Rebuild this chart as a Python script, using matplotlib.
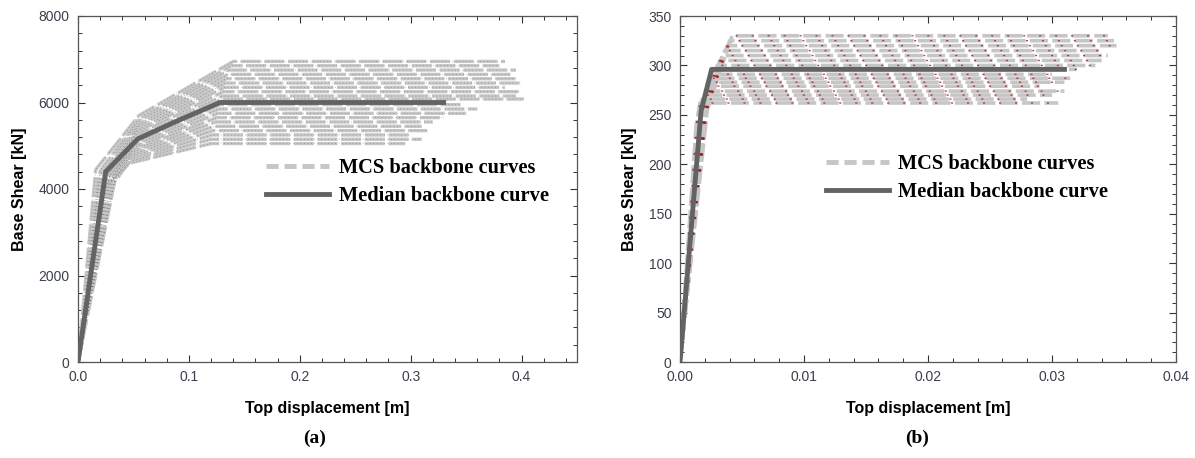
import matplotlib
matplotlib.use("Agg")
import matplotlib.pyplot as plt
from matplotlib.ticker import MultipleLocator, FormatStrFormatter
from matplotlib.lines import Line2D

# ---------------- Data: panel (a) ----------------
# MCS backbone curves (multi-linear): (0,0)->(d1,V1)->(d2,V2)->(d3,V3)->(du,V3)
a_d1 = [0.016, 0.020, 0.023, 0.026, 0.029, 0.032, 0.034, 0.018, 0.021, 0.024,
        0.027, 0.030, 0.033, 0.019, 0.022, 0.025, 0.028, 0.031, 0.026, 0.023]
a_V1 = [4450, 4420, 4400, 4380, 4350, 4330, 4300, 4280, 4260, 4240,
        4220, 4200, 4180, 4160, 4140, 4120, 4100, 4080, 4060, 4050]
a_d2 = [0.055, 0.055, 0.054, 0.054, 0.053, 0.053, 0.052, 0.052, 0.052, 0.051,
        0.051, 0.050, 0.050, 0.050, 0.049, 0.049, 0.048, 0.048, 0.048, 0.047]
a_V2 = [5700, 5620, 5550, 5480, 5420, 5360, 5300, 5240, 5180, 5120,
        5060, 5000, 4950, 4900, 4850, 4800, 4750, 4700, 4650, 4600]
a_d3 = [0.140, 0.138, 0.136, 0.135, 0.134, 0.133, 0.132, 0.131, 0.130, 0.130,
        0.128, 0.127, 0.126, 0.125, 0.124, 0.123, 0.122, 0.121, 0.120, 0.120]
a_V3 = [6950, 6850, 6750, 6650, 6550, 6450, 6350, 6250, 6150, 6080,
        5950, 5850, 5750, 5650, 5550, 5450, 5350, 5250, 5150, 5050]
a_du = [0.385, 0.380, 0.395, 0.390, 0.395, 0.400, 0.385, 0.400, 0.395, 0.402,
        0.345, 0.360, 0.350, 0.330, 0.320, 0.310, 0.315, 0.300, 0.310, 0.295]
# Median backbone curve
a_med_d = [0.0, 0.025, 0.054, 0.090, 0.128, 0.332]
a_med_V = [0, 4400, 5160, 5580, 6000, 6000]

# ---------------- Data: panel (b) ----------------
b_d1 = [0.0013, 0.0014, 0.0015, 0.0016, 0.0017, 0.0018, 0.0019, 0.0020,
        0.0021, 0.0022, 0.0020, 0.0021, 0.0022, 0.0019, 0.0020, 0.0021]
b_V1 = [240, 242, 245, 248, 250, 252, 255, 258,
        260, 262, 250, 252, 255, 248, 250, 252]
b_dy = [0.0016, 0.0018, 0.0019, 0.0021, 0.0022, 0.0024, 0.0025, 0.0027,
        0.0028, 0.0030, 0.0032, 0.0034, 0.0036, 0.0038, 0.0040, 0.0042]
b_Vy = [262, 266, 270, 274, 279, 283, 287, 291,
        296, 300, 305, 310, 315, 320, 325, 330]
b_du = [0.0305, 0.0280, 0.0300, 0.0310, 0.0290, 0.0310, 0.0315, 0.0300,
        0.0320, 0.0335, 0.0340, 0.0345, 0.0340, 0.0352, 0.0350, 0.0345]
b_med_d = [0.0, 0.0017, 0.00255, 0.0312]
b_med_V = [0, 254, 296, 296]

# ---------------- Labels ----------------
ylabel = "Base Shear [kN]"
xlabel = "Top displacement [m]"
leg_labels = ["MCS backbone curves", "Median backbone curve"]
panel_labels = ["(a)", "(b)"]

MCS_COLOR = "#c6c6c6"
MED_COLOR = "#636363"

fig = plt.figure(figsize=(11.95, 4.58), dpi=100)
axA = fig.add_axes([78/1195, 1-362/458, (577-78)/1195, (362-16)/458])
axB = fig.add_axes([680/1195, 1-362/458, (1176-680)/1195, (362-16)/458])


def style_axes(ax, xmaj, xmin, ymaj, ymin, xfmt):
    ax.xaxis.set_major_locator(MultipleLocator(xmaj))
    ax.xaxis.set_minor_locator(MultipleLocator(xmin))
    ax.yaxis.set_major_locator(MultipleLocator(ymaj))
    ax.yaxis.set_minor_locator(MultipleLocator(ymin))
    ax.xaxis.set_major_formatter(FormatStrFormatter(xfmt))
    ax.tick_params(which="both", direction="in", top=True, right=True,
                   labelsize=10, labelcolor="#3a3f4a", color="#333333", pad=6)
    ax.tick_params(which="major", length=5, width=0.8)
    ax.tick_params(which="minor", length=3, width=0.7)
    for lab in ax.get_xticklabels() + ax.get_yticklabels():
        lab.set_family("Liberation Sans")
    for s in ax.spines.values():
        s.set_color("#555555")
        s.set_linewidth(0.9)
    ax.set_xlabel(xlabel, family="Liberation Sans", fontweight="bold",
                  fontsize=11.5, labelpad=12)
    ax.set_ylabel(ylabel, family="Liberation Sans", fontweight="bold",
                  fontsize=11.5, labelpad=8)


# Panel (a)
for i in range(len(a_V3)):
    xs = [0.0, a_d1[i], a_d2[i], a_d3[i], a_du[i]]
    ys = [0, a_V1[i], a_V2[i], a_V3[i], a_V3[i]]
    axA.plot(xs, ys, color=MCS_COLOR, lw=2.4, dashes=(6, 1.1), zorder=2)
    axA.plot(xs, ys, color="#222222", lw=0.5, ls=(0, (1, 4)), alpha=0.5, zorder=3)
axA.plot(a_med_d, a_med_V, color=MED_COLOR, lw=3.5, solid_capstyle="butt", zorder=4)
axA.set_xlim(0, 0.45)
axA.set_ylim(0, 8000)
style_axes(axA, 0.1, 0.02, 2000, 400, "%.1f")

# Panel (b)
for i in range(len(b_Vy)):
    xs = [0.0, b_d1[i], b_dy[i], b_du[i]]
    ys = [0, b_V1[i], b_Vy[i], b_Vy[i]]
    axB.plot(xs, ys, color=MCS_COLOR, lw=2.6, dashes=(5, 1.2), zorder=2)
    axB.plot(xs, ys, color="#a02020", lw=1.0, ls=(0, (1.5, 10)), alpha=0.8, zorder=3)
axB.plot(b_med_d, b_med_V, color=MED_COLOR, lw=3.5, solid_capstyle="butt", zorder=4)
axB.set_xlim(0, 0.04)
axB.set_ylim(0, 350)
style_axes(axB, 0.01, 0.002, 50, 10, "%.2f")

# Legends
handles = [Line2D([], [], color=MCS_COLOR, lw=3.5, dashes=(2.5, 1.2)),
           Line2D([], [], color=MED_COLOR, lw=3.5)]
for ax, anchor in ((axA, (0.377, 0.59)), (axB, (0.294, 0.60))):
    ax.legend(handles, leg_labels, loc="upper left", bbox_to_anchor=anchor,
              frameon=False, handlelength=3.1, handletextpad=0.45,
              labelspacing=0.39, borderpad=0, borderaxespad=0,
              prop={"family": "Liberation Serif", "weight": "bold", "size": 14.7})

# Panel captions
fig.text(315/1195, 1-438/458, panel_labels[0], ha="center", va="center",
         family="Liberation Serif", fontweight="bold", fontsize=14)
fig.text(917/1195, 1-438/458, panel_labels[1], ha="center", va="center",
         family="Liberation Serif", fontweight="bold", fontsize=14)

fig.savefig("out.png", dpi=100)
